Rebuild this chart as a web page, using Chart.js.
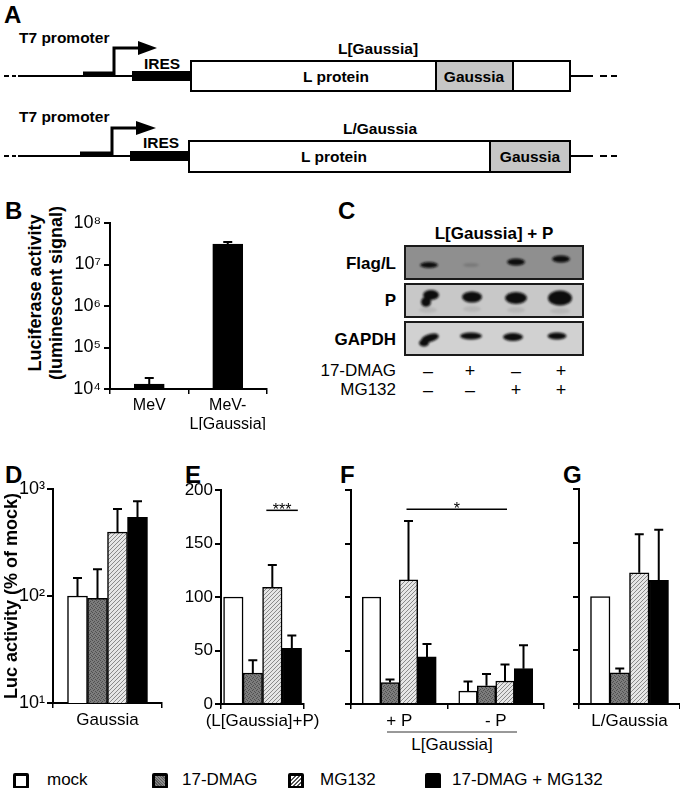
<!DOCTYPE html>
<html>
<head>
<meta charset="utf-8">
<script src="https://cdn.jsdelivr.net/npm/chart.js@4.4.0/dist/chart.umd.min.js"></script>
<style>
  body { margin: 0; width: 680px; height: 788px; background: #fff; position: relative; overflow: hidden;
         font-family: "Liberation Sans", Arial, sans-serif; color: #000; }
  .box { position: absolute; }
  .letter { position: absolute; font-weight: bold; font-size: 24px; line-height: 1; }
  .txt { position: absolute; white-space: nowrap; line-height: 18px; font-size: 17px; }
  .sw { position: absolute; top: 773px; width: 10px; height: 10px; border: 3px solid #000; border-radius: 2px; }
  svg.art { position: absolute; left: 0; top: 0; }
</style>
</head>
<body>

<svg class="art" width="680" height="788" font-family="Liberation Sans, Arial, sans-serif">
  <defs>
    <filter id="soft" x="-50%" y="-50%" width="200%" height="200%"><feGaussianBlur stdDeviation="1.1"/></filter>
  </defs>

  <!-- A: constructs -->
  <g stroke="#000" fill="none">
    <line x1="4" y1="76" x2="9" y2="76" stroke-width="2"/><line x1="12" y1="76" x2="16" y2="76" stroke-width="2"/>
    <line x1="18" y1="76" x2="191" y2="76" stroke-width="2"/>
    <line x1="570" y1="76" x2="593" y2="76" stroke-width="2"/>
    <line x1="600" y1="76" x2="607" y2="76" stroke-width="2"/><line x1="611" y1="76" x2="617" y2="76" stroke-width="2"/>
    <line x1="83" y1="74" x2="114" y2="74" stroke-width="5"/>
    <polyline points="114,76 114,48 140,48" stroke-width="3"/>

    <line x1="4" y1="156" x2="9" y2="156" stroke-width="2"/><line x1="12" y1="156" x2="16" y2="156" stroke-width="2"/>
    <line x1="18" y1="156" x2="189" y2="156" stroke-width="2"/>
    <line x1="570" y1="156" x2="593" y2="156" stroke-width="2"/>
    <line x1="600" y1="156" x2="607" y2="156" stroke-width="2"/><line x1="611" y1="156" x2="617" y2="156" stroke-width="2"/>
    <line x1="80" y1="154" x2="112" y2="154" stroke-width="5"/>
    <polyline points="112,156 112,128 138,128" stroke-width="3"/>
  </g>
  <polygon points="138,41 157,48 138,55" fill="#000"/>
  <polygon points="136,121 156,128 136,135" fill="#000"/>
  <rect x="132" y="71" width="59" height="10" fill="#000"/>
  <rect x="130" y="151" width="59" height="10" fill="#000"/>
  <rect x="191" y="61" width="379" height="30" fill="#fff" stroke="#000" stroke-width="2"/>
  <rect x="436" y="61" width="77" height="30" fill="#c6c6c6" stroke="#000" stroke-width="2"/>
  <rect x="189" y="141" width="381" height="31" fill="#fff" stroke="#000" stroke-width="2"/>
  <rect x="490" y="141" width="80" height="31" fill="#c6c6c6" stroke="#000" stroke-width="2"/>
  <g font-weight="bold" font-size="15.5" fill="#000">
    <text x="19" y="43">T7 promoter</text>
    <text x="162" y="69" text-anchor="middle">IRES</text>
    <text x="378" y="54" text-anchor="middle">L[Gaussia]</text>
    <text x="336" y="82" text-anchor="middle">L protein</text>
    <text x="474" y="82" text-anchor="middle">Gaussia</text>
    <text x="19" y="122">T7 promoter</text>
    <text x="161" y="148" text-anchor="middle">IRES</text>
    <text x="380" y="134" text-anchor="middle">L/Gaussia</text>
    <text x="334" y="162" text-anchor="middle">L protein</text>
    <text x="530" y="162" text-anchor="middle">Gaussia</text>
  </g>

  <!-- C: western blot -->
  <text x="494" y="239" text-anchor="middle" font-weight="bold" font-size="17">L[Gaussia] + P</text>
  <rect x="405" y="246" width="178" height="33" fill="#8f8f8f"/>
  <rect x="405" y="284" width="178" height="33" fill="#c8c8c8"/>
  <rect x="405" y="322" width="178" height="33" fill="#d1d1d1"/>
  <g fill="#0d0d0d" filter="url(#soft)">
    <ellipse cx="429" cy="265" rx="9" ry="3"/>
    <ellipse cx="471" cy="265" rx="8" ry="2" opacity="0.15"/>
    <ellipse cx="516" cy="262" rx="9" ry="3.5"/>
    <ellipse cx="561" cy="259" rx="9" ry="3.5"/>
    <ellipse cx="431" cy="295" rx="8" ry="5"/>
    <ellipse cx="426" cy="302" rx="5" ry="5"/>
    <ellipse cx="472" cy="297" rx="10" ry="5.5"/>
    <ellipse cx="516" cy="298" rx="11" ry="6"/>
    <ellipse cx="560" cy="298" rx="12" ry="7.5"/>
    <ellipse cx="430" cy="338" rx="9" ry="4" transform="rotate(-15 430 338)"/>
    <ellipse cx="424" cy="343" rx="5" ry="3.5"/>
    <ellipse cx="471" cy="336" rx="11" ry="3.5"/>
    <ellipse cx="513" cy="337" rx="10" ry="4"/>
    <ellipse cx="557" cy="336" rx="9.5" ry="3.5"/>
  </g>
  <g fill="#9a9a9a" opacity="0.35" filter="url(#soft)">
    <ellipse cx="428" cy="310" rx="9" ry="3"/><ellipse cx="472" cy="309" rx="9" ry="3"/>
    <ellipse cx="516" cy="310" rx="9" ry="3"/><ellipse cx="560" cy="311" rx="10" ry="3"/>
  </g>
  <g fill="none" stroke="#1a1a1a" stroke-width="2">
    <rect x="405" y="246" width="178" height="33"/>
    <rect x="405" y="284" width="178" height="33"/>
    <rect x="405" y="322" width="178" height="33"/>
  </g>
  <g font-size="17" text-anchor="end">
    <text x="396" y="269" font-weight="bold">Flag/L</text>
    <text x="396" y="306" font-weight="bold">P</text>
    <text x="396" y="345" font-weight="bold">GAPDH</text>
    <text x="396" y="376">17-DMAG</text>
    <text x="396" y="395">MG132</text>
  </g>
  <g font-size="18" text-anchor="middle">
    <text x="428" y="377">–</text><text x="470" y="377">+</text><text x="516" y="377">–</text><text x="561" y="377">+</text>
    <text x="428" y="396">–</text><text x="470" y="396">–</text><text x="516" y="396">+</text><text x="561" y="396">+</text>
  </g>

  <!-- F: bracket under the two groups -->
  <line x1="387" y1="732" x2="517" y2="732" stroke="#333" stroke-width="1"/>
</svg>

<div class="letter" style="left:4px;top:3px">A</div>
<div class="letter" style="left:5px;top:199px">B</div>
<div class="letter" style="left:338px;top:199px">C</div>
<div class="letter" style="left:5px;top:463px">D</div>
<div class="letter" style="left:185px;top:463px">E</div>
<div class="letter" style="left:340px;top:463px">F</div>
<div class="letter" style="left:563px;top:463px">G</div>

<div class="txt" style="left:-65px;top:284px;width:200px;text-align:center;font-weight:bold;font-size:18px;transform:rotate(-90deg)">Luciferase activity</div>
<div class="txt" style="left:-44px;top:284px;width:200px;text-align:center;font-weight:bold;font-size:18px;transform:rotate(-90deg)">(luminescent signal)</div>
<div class="txt" style="left:402px;top:736px;width:100px;text-align:center">L[Gaussia]</div>

<div id="legend"></div>

<script>
// ---- data ----
const seriesNames = ['mock', '17-DMAG', 'MG132', '17-DMAG + MG132'];

// B: luciferase activity, log scale
const bLabels = ['MeV', ['MeV-', 'L[Gaussia]']];
const bValues = [13200, 31000000];
const bErrors = [18500, 35000000];
const bTicks = [1e4, 1e5, 1e6, 1e7, 1e8];

// D: Gaussia (log scale), one value per series
const dLabels = ['Gaussia'];
const dValues = [100, 95, 395, 545];
const dErrors = [147, 178, 650, 770];
const dTicks = [10, 100, 1000];

// E: L[Gaussia] + P
const eLabels = ['(L[Gaussia]+P)'];
const eValues = [100, 29, 109, 52];
const eErrors = [null, 41, 130, 64];

// F: L[Gaussia] with / without P
const fLabels = ['+ P', '- P'];
const fMock = [100, 12];
const fMockErr = [null, 21];
const fDmag = [20, 17];
const fDmagErr = [23, 28];
const fMg = [116, 21.5];
const fMgErr = [171, 37];
const fCombo = [44, 33];
const fComboErr = [56, 55];

// G: L/Gaussia
const gLabels = ['L/Gaussia'];
const gValues = [100, 29, 122, 115];
const gErrors = [null, 33, 158, 162];

const linTicks = [0, 50, 100, 150, 200];

// significance bars: value on y, [series, category] endpoints
const eSig = { value: 181, from: [2, 0], to: [3, 0], text: '***' };
const fSig = { value: 182, from: [2, 0], to: [2, 1], text: '*' };

// ---- styling ----
Chart.defaults.font.family = '"Liberation Sans", Arial, sans-serif';
Chart.defaults.color = '#000';
Chart.defaults.animation = false;
Chart.defaults.responsive = true;
Chart.defaults.maintainAspectRatio = false;
Chart.defaults.devicePixelRatio = 1;
Chart.defaults.plugins.legend.display = false;
Chart.defaults.plugins.tooltip.enabled = false;

function makePattern(kind) {
  const c = document.createElement('canvas');
  c.width = c.height = 4;
  const g = c.getContext('2d');
  if (kind === 'dots') {
    g.fillStyle = '#7c7c7c'; g.fillRect(0, 0, 4, 4);
    g.fillStyle = '#505050';
    g.fillRect(0, 0, 1, 1); g.fillRect(2, 1, 1, 1); g.fillRect(1, 2, 1, 1); g.fillRect(3, 3, 1, 1);
  } else {
    g.fillStyle = '#e6e6e6'; g.fillRect(0, 0, 4, 4);
    g.fillStyle = '#8a8a8a';
    for (let i = 0; i < 4; i++) g.fillRect(i, 3 - i, 1, 1);
  }
  return g.createPattern(c, 'repeat');
}
const seriesFills = ['#ffffff', makePattern('dots'), makePattern('hatch'), '#000000'];

const sup = { 1: '¹', 2: '²', 3: '³', 4: '⁴', 5: '⁵', 6: '⁶', 7: '⁷', 8: '⁸' };
const powLabel = v => '10' + sup[Math.round(Math.log10(v))];

// error bars (upper only)
const errorBars = {
  id: 'errorBars',
  afterDatasetsDraw(chart) {
    const ctx = chart.ctx, y = chart.scales.y;
    ctx.save();
    ctx.strokeStyle = '#000';
    ctx.lineWidth = 2;
    chart.data.datasets.forEach((ds, i) => {
      const meta = chart.getDatasetMeta(i);
      (ds.errors || []).forEach((e, j) => {
        if (e == null) return;
        const bar = meta.data[j];
        const top = y.getPixelForValue(e);
        ctx.beginPath();
        ctx.moveTo(bar.x, bar.y);
        ctx.lineTo(bar.x, top);
        ctx.moveTo(bar.x - 4.5, top);
        ctx.lineTo(bar.x + 4.5, top);
        ctx.stroke();
      });
    });
    ctx.restore();
  }
};

// significance line with stars
const sigBar = {
  id: 'sigBar',
  afterDatasetsDraw(chart, args, opts) {
    if (!opts || !opts.sig) return;
    const s = opts.sig, ctx = chart.ctx;
    const x1 = chart.getDatasetMeta(s.from[0]).data[s.from[1]].x - (opts.extend || 0);
    const x2 = chart.getDatasetMeta(s.to[0]).data[s.to[1]].x + (opts.extend || 0);
    const y = chart.scales.y.getPixelForValue(s.value);
    ctx.save();
    ctx.strokeStyle = '#000';
    ctx.lineWidth = 1.5;
    ctx.beginPath(); ctx.moveTo(x1, y); ctx.lineTo(x2, y); ctx.stroke();
    ctx.fillStyle = '#000';
    ctx.font = '16px "Liberation Sans", Arial, sans-serif';
    ctx.textAlign = 'center';
    ctx.textBaseline = 'alphabetic';
    ctx.fillText(s.text, (x1 + x2) / 2, y + 5);
    ctx.restore();
  }
};

function xScale(size) {
  return {
    offset: true,
    grid: { offset: true, drawOnChartArea: false, tickLength: 5, color: '#000', lineWidth: 1.5 },
    border: { color: '#000', width: 2 },
    ticks: { color: '#000', font: { size: size }, padding: 2, maxRotation: 0, autoSkip: false }
  };
}

function yScale(extra) {
  return Object.assign({
    grid: { drawOnChartArea: false, tickLength: 6, color: '#000', lineWidth: 2 },
    border: { color: '#000', width: 2 }
  }, extra);
}

// box = canvas [left, top, width, height]; area = chart area [left, top, right, bottom]
function panel(box, area, config) {
  const div = document.createElement('div');
  div.className = 'box';
  Object.assign(div.style, { left: box[0] + 'px', top: box[1] + 'px', width: box[2] + 'px', height: box[3] + 'px' });
  const cv = document.createElement('canvas');
  div.appendChild(cv);
  document.body.appendChild(div);
  config.options.layout = { padding: { left: 0, bottom: 0, top: area[1] - box[1], right: box[0] + box[2] - area[2] } };
  config.options.scales.x.afterFit = s => { s.height = box[1] + box[3] - area[3]; };
  config.options.scales.y.afterFit = s => { s.width = area[0] - box[0]; };
  config.plugins = [errorBars, sigBar];
  return new Chart(cv, config);
}

function seriesSets(values, errors, thickness) {
  return seriesNames.map((name, i) => ({
    label: name,
    data: values[i],
    errors: errors[i],
    backgroundColor: seriesFills[i],
    borderColor: '#000',
    borderWidth: 1.5,
    barThickness: thickness
  }));
}

// B
panel([0, 195, 275, 235], [110, 223, 267, 389], {
  type: 'bar',
  data: {
    labels: bLabels,
    datasets: [{ label: 'Luciferase', data: bValues, errors: bErrors, backgroundColor: '#000',
                 borderColor: '#000', borderWidth: 1, barThickness: 30 }]
  },
  options: {
    scales: {
      x: xScale(16),
      y: yScale({
        type: 'logarithmic', min: 1e4, max: 1e8,
        afterBuildTicks: s => { s.ticks = bTicks.map(v => ({ value: v })); },
        ticks: { color: '#000', font: { size: 18 }, padding: 3, callback: v => powLabel(v) }
      })
    }
  }
});

// D
panel([0, 460, 175, 275], [53, 489, 162, 703], {
  type: 'bar',
  data: { labels: dLabels, datasets: seriesSets(dValues.map(v => [v]), dErrors.map(v => [v]), 20) },
  options: {
    scales: {
      x: xScale(17),
      y: yScale({
        type: 'logarithmic', min: 10, max: 1000,
        afterBuildTicks: s => { s.ticks = dTicks.map(v => ({ value: v })); },
        ticks: { color: '#000', font: { size: 18 }, padding: 2, callback: v => powLabel(v) },
        title: { display: true, text: 'Luc activity (% of mock)', font: { size: 18, weight: 'bold' },
                 color: '#000', padding: { top: 1, bottom: 0 } }
      })
    }
  }
});

// E
panel([175, 460, 155, 275], [221, 490, 313, 704], {
  type: 'bar',
  data: { labels: eLabels, datasets: seriesSets(eValues.map(v => [v]), eErrors.map(v => [v]), 19.5) },
  options: {
    plugins: { sigBar: { sig: eSig, extend: 6 } },
    scales: {
      x: xScale(17),
      y: yScale({
        min: 0, max: 200,
        afterBuildTicks: s => { s.ticks = linTicks.map(v => ({ value: v })); },
        ticks: { color: '#000', font: { size: 17 }, padding: 2 }
      })
    }
  }
});

// F
panel([330, 460, 220, 275], [351, 490, 544, 704], {
  type: 'bar',
  data: {
    labels: fLabels,
    datasets: seriesSets([fMock, fDmag, fMg, fCombo], [fMockErr, fDmagErr, fMgErr, fComboErr], 18.5)
  },
  options: {
    plugins: { sigBar: { sig: fSig, extend: 2 } },
    scales: {
      x: xScale(17),
      y: yScale({
        min: 0, max: 200,
        afterBuildTicks: s => { s.ticks = linTicks.map(v => ({ value: v })); },
        ticks: { display: false }
      })
    }
  }
});

// G
panel([555, 460, 125, 275], [579, 489, 680, 704], {
  type: 'bar',
  data: { labels: gLabels, datasets: seriesSets(gValues.map(v => [v]), gErrors.map(v => [v]), 19.5) },
  options: {
    scales: {
      x: xScale(17),
      y: yScale({
        min: 0, max: 200,
        afterBuildTicks: s => { s.ticks = linTicks.map(v => ({ value: v })); },
        ticks: { display: false }
      })
    }
  }
});

// legend row
const legendPos = [[13, 47], [152, 182], [288, 320], [425, 452]];
const swatchCss = [
  'background:#fff',
  'background:#777 repeating-linear-gradient(45deg,#5a5a5a 0 1px,#8a8a8a 1px 2px)',
  'background:repeating-linear-gradient(-45deg,#fff 0 1.5px,#555 1.5px 3px)',
  'background:#000'
];
const legend = document.getElementById('legend');
seriesNames.forEach((name, i) => {
  legend.insertAdjacentHTML('beforeend',
    `<div class="sw" style="left:${legendPos[i][0]}px;${swatchCss[i]}"></div>` +
    `<div class="txt" style="left:${legendPos[i][1]}px;top:771px">${name}</div>`);
});
</script>
</body>
</html>
